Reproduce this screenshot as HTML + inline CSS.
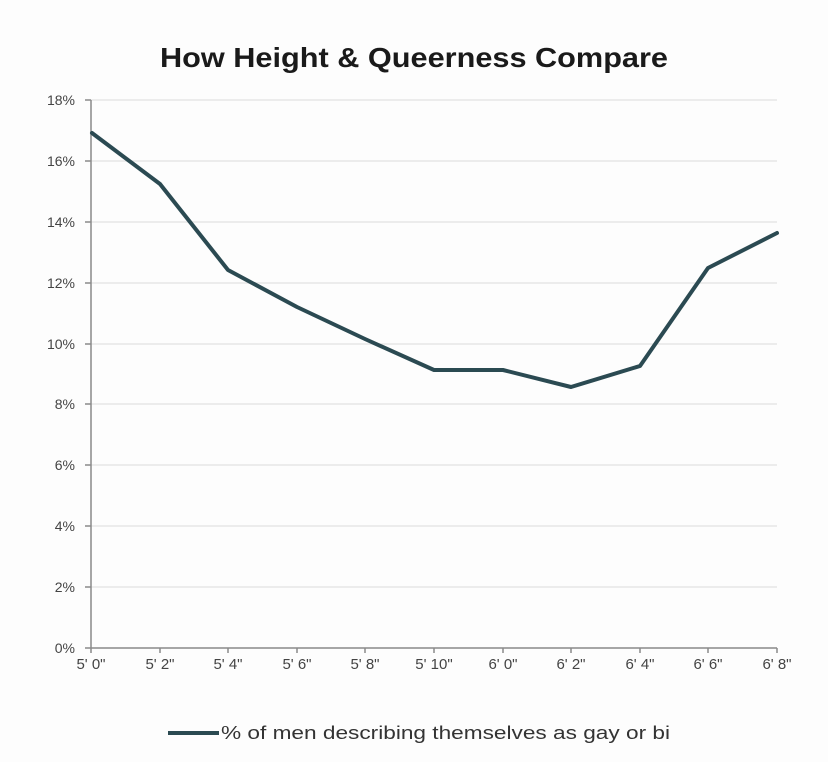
<!DOCTYPE html>
<html><head><meta charset="utf-8"><style>
html,body{margin:0;padding:0;background:#fdfdfd;}
svg{display:block;}
</style></head><body>
<svg width="828" height="762" xmlns="http://www.w3.org/2000/svg" font-family="'Liberation Sans', sans-serif">
<rect width="828" height="762" fill="#fdfdfd"/>
<text x="414" y="67" text-anchor="middle" font-size="28" font-weight="bold" fill="#1a1a1a" textLength="508" lengthAdjust="spacingAndGlyphs">How Height &amp; Queerness Compare</text>
<g stroke="#e6e6e6" stroke-width="1.5">
<line x1="91" x2="777" y1="100" y2="100"/>
<line x1="91" x2="777" y1="161" y2="161"/>
<line x1="91" x2="777" y1="222" y2="222"/>
<line x1="91" x2="777" y1="283" y2="283"/>
<line x1="91" x2="777" y1="344" y2="344"/>
<line x1="91" x2="777" y1="404" y2="404"/>
<line x1="91" x2="777" y1="465" y2="465"/>
<line x1="91" x2="777" y1="526" y2="526"/>
<line x1="91" x2="777" y1="587" y2="587"/>
</g>
<g stroke="#8a8a8a" stroke-width="1.5">
<line x1="91" x2="91" y1="100" y2="653"/>
<line x1="85" x2="777" y1="648" y2="648"/>
<line x1="85" x2="91" y1="100" y2="100"/><line x1="85" x2="91" y1="161" y2="161"/><line x1="85" x2="91" y1="222" y2="222"/><line x1="85" x2="91" y1="283" y2="283"/><line x1="85" x2="91" y1="344" y2="344"/><line x1="85" x2="91" y1="404" y2="404"/><line x1="85" x2="91" y1="465" y2="465"/><line x1="85" x2="91" y1="526" y2="526"/><line x1="85" x2="91" y1="587" y2="587"/>
<line x1="160" x2="160" y1="648" y2="653"/><line x1="228" x2="228" y1="648" y2="653"/><line x1="297" x2="297" y1="648" y2="653"/><line x1="365" x2="365" y1="648" y2="653"/><line x1="434" x2="434" y1="648" y2="653"/><line x1="503" x2="503" y1="648" y2="653"/><line x1="571" x2="571" y1="648" y2="653"/><line x1="640" x2="640" y1="648" y2="653"/><line x1="708" x2="708" y1="648" y2="653"/><line x1="777" x2="777" y1="648" y2="653"/>
</g>
<g font-size="14" fill="#444" text-anchor="end">
<text x="75" y="105">18%</text><text x="75" y="166">16%</text><text x="75" y="227">14%</text><text x="75" y="288">12%</text><text x="75" y="349">10%</text><text x="75" y="409">8%</text><text x="75" y="470">6%</text><text x="75" y="531">4%</text><text x="75" y="592">2%</text><text x="75" y="653">0%</text>
</g>
<g font-size="15" fill="#444" text-anchor="middle">
<text x="91" y="669">5' 0"</text><text x="160" y="669">5' 2"</text><text x="228" y="669">5' 4"</text><text x="297" y="669">5' 6"</text><text x="365" y="669">5' 8"</text><text x="434" y="669">5' 10"</text><text x="503" y="669">6' 0"</text><text x="571" y="669">6' 2"</text><text x="640" y="669">6' 4"</text><text x="708" y="669">6' 6"</text><text x="777" y="669">6' 8"</text>
</g>
<polyline fill="none" stroke="#2b4a52" stroke-width="4" stroke-linejoin="round" stroke-linecap="round"
points="92,133 160,184 228,270 297,307 365,339 434,370 503,370 571,387 640,366 708,268 777,233"/>
<line x1="168" x2="219" y1="733" y2="733" stroke="#2b4a52" stroke-width="4"/>
<text x="221" y="739" font-size="18" fill="#333" textLength="449" lengthAdjust="spacingAndGlyphs">% of men describing themselves as gay or bi</text>
</svg>
</body></html>
